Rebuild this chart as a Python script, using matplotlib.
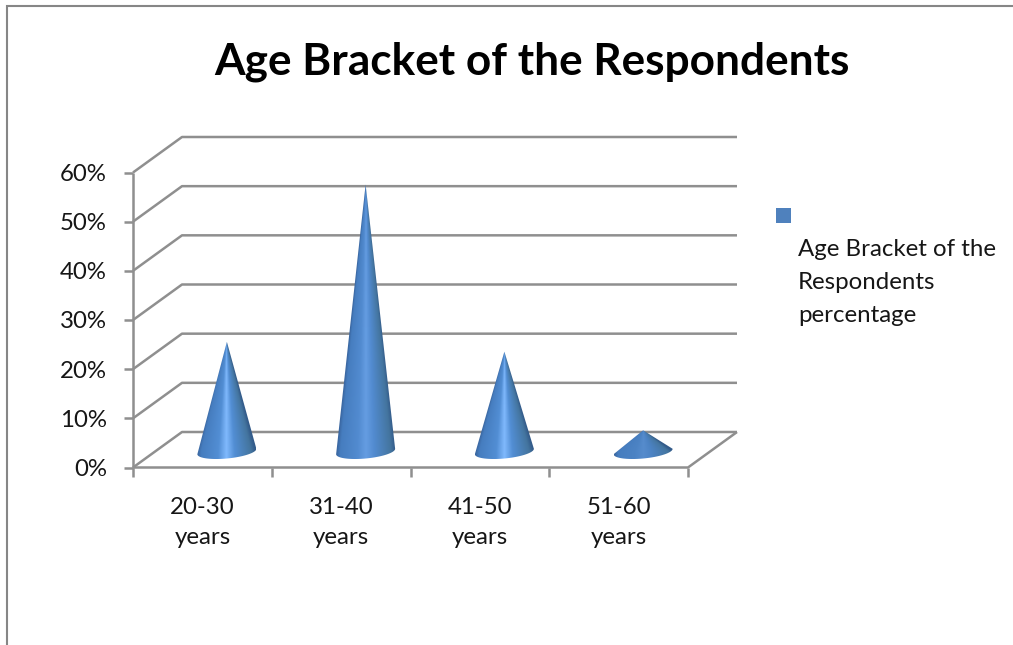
import numpy as np
import matplotlib
matplotlib.use("Agg")
import matplotlib.pyplot as plt
from matplotlib.colors import LinearSegmentedColormap
from matplotlib.path import Path
from matplotlib.patches import PathPatch, Rectangle

categories = ["20-30\nyears", "31-40\nyears", "41-50\nyears", "51-60\nyears"]
percentages = [22, 54, 20, 4]
y_ticks = [0, 10, 20, 30, 40, 50, 60]
y_tick_labels = ["0%", "10%", "20%", "30%", "40%", "50%", "60%"]
title = "Age Bracket of the Respondents"
legend_lines = ["Age Bracket of the", "Respondents", "percentage"]

W, H = 1013, 645
FONT = "Lato"
GRID = "#8f8f8f"
TEXT = "#161616"
LABEL_SIZE = 17.3

fig = plt.figure(figsize=(W / 100, H / 100), dpi=100, facecolor="white")

# Front plane of the 3-D box: categories along x, percent along y.
L, R, T, B = 133, 688, 172.5, 467.5
ax = fig.add_axes([L / W, 1 - B / H, (R - L) / W, (B - T) / H])
ax.set_xlim(0, len(categories))
ax.set_ylim(0, 60)
ax.axis("off")

px_x = (R - L) / len(categories)
px_y = (B - T) / 60
depth_x = 49 / px_x
depth_y = 35.5 / px_y

line = dict(color=GRID, lw=1.8, clip_on=False, solid_capstyle="butt", zorder=1)

# Back-wall gridlines and the matching diagonals on the side wall.
for v, label in zip(y_ticks, y_tick_labels):
    ax.plot([0, depth_x, len(categories) + depth_x], [v, v + depth_y, v + depth_y], **line)
    ax.plot([-9 / px_x, 0], [v, v], **line)
    ax.text(-26 / px_x, v, label, ha="right", va="center_baseline", fontsize=LABEL_SIZE,
            family=FONT, color=TEXT)

# Floor and axis lines.
ax.plot([0, 0], [0, 60], **line)
ax.plot([0, len(categories), len(categories) + depth_x], [0, 0, depth_y], **line)
for i in range(len(categories) + 1):
    ax.plot([i, i], [0, -9 / px_y], **line)
for i, cat in enumerate(categories):
    for row, part in enumerate(cat.split("\n")):
        ax.text(i + 0.5, -(37.5 + 30 * row) / px_y, part, ha="center", va="center_baseline",
                fontsize=LABEL_SIZE, family=FONT, color=TEXT)


def cone_shade(centre, shoulder):
    # Horizontal shading of a cone: a thin dark rim rising to the given centre colour.
    return LinearSegmentedColormap.from_list("cone", [
        (0.00, "#38639c"), (0.07, "#467dbf"), (0.36, shoulder), (0.50, centre),
        (0.64, shoulder), (0.92, "#44759f"), (1.00, "#335b8a")])


cone_centres = ["#80b9fd", "#659de2", "#80b9fd", "#568ccd"]
cone_shoulders = ["#528ed4", "#528bd0", "#528ed4", "#4c83c4"]

half_w = 29.5 / px_x
semi_h = 7 / px_y
tilt = 2.7 / px_y
floor_y = 16 / px_y
apex_lift = 1.5 / px_y

for i, value in enumerate(percentages):
    cx = i + 0.5 + depth_x / 2
    apex = value + floor_y + apex_lift
    theta = np.linspace(0, np.pi, 60)
    ex = cx + half_w * np.cos(theta)
    ey = floor_y + tilt * np.cos(theta) - semi_h * np.sin(theta)
    verts = [(cx, apex)] + list(zip(ex, ey)) + [(cx, apex)]
    codes = [Path.MOVETO] + [Path.LINETO] * (len(verts) - 2) + [Path.CLOSEPOLY]
    clip = PathPatch(Path(verts, codes), transform=ax.transData, fc="none", ec="none")
    ax.add_patch(clip)

    # Each row is shaded across the cone's own width at that height.
    xs = np.linspace(cx - half_w, cx + half_w, 240)
    ys = np.linspace(floor_y - semi_h - tilt, apex, 900)
    gx, gy = np.meshgrid(xs, ys)
    frac = np.clip((apex - gy) / (apex - floor_y), 0.02, 1)
    t = np.clip((gx - cx) / (half_w * frac), -1, 1) * 0.5 + 0.5
    shade = cone_shade(cone_centres[i], cone_shoulders[i])
    im = ax.imshow(shade(t), extent=(xs[0], xs[-1], ys[0], ys[-1]), origin="lower",
                   aspect="auto", interpolation="bilinear", zorder=3)
    im.set_clip_path(clip)
ax.set_xlim(0, len(categories))
ax.set_ylim(0, 60)

# Overlay spanning the whole figure for the frame, title and legend.
over = fig.add_axes([0, 0, 1, 1], facecolor="none")
over.set_xlim(0, W)
over.set_ylim(H, 0)
over.axis("off")
over.plot([7, 7, W], [H, 5.5, 5.5], color="#868686", lw=1.5, solid_joinstyle="miter")
over.text(532, 58, title, ha="center", va="center_baseline", fontsize=31.8, fontweight="bold",
          family=FONT, color="black")
over.add_patch(Rectangle((776, 208), 15, 15, fc="#4f81bd", ec="none"))
for k, text in enumerate(legend_lines):
    over.text(798, 248 + 32.5 * k, text, ha="left", va="center_baseline", fontsize=LABEL_SIZE,
              family=FONT, color=TEXT)

fig.savefig("out.png", dpi=100, facecolor="white")
